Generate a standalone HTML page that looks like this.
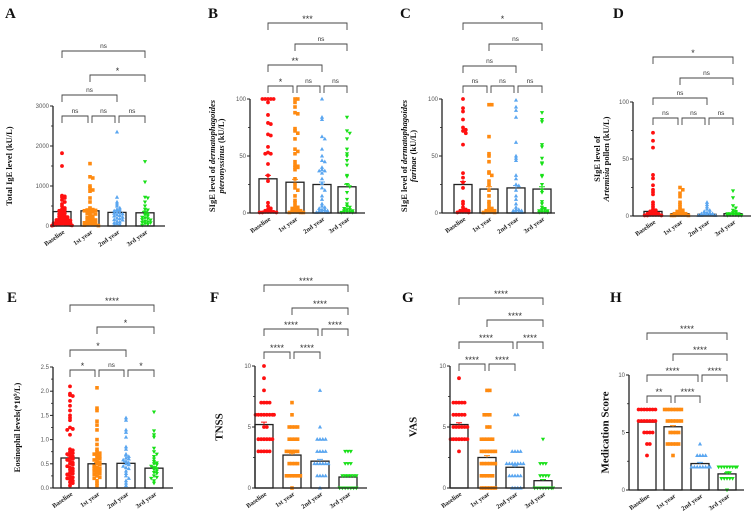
<!DOCTYPE html>
<html><head><meta charset="utf-8">
<style>
html,body{margin:0;padding:0;background:#fff;}
svg{display:block;font-family:"Liberation Serif",serif;}
</style></head>
<body>
<svg id="fig" width="753" height="512" viewBox="0 0 753 512" xmlns="http://www.w3.org/2000/svg"></svg>
<script>
const categories = ['Baseline','1st year','2nd year','3rd year'];
const colors = ['#ff1010','#ff8a10','#5aa6f0','#18e018'];

const meansA = [360,380,340,330];
const semA = [45,40,40,35];
const ptsA = [
 [1820,1500,760,740,720,700,650,600,550,500,450,420,400,380,350,320,300,280,250,240,220,200,190,180,160,150,140,130,120,110,100,90,80,70,60,50,45,40,30,25,20,15,10],
 [1560,1230,1200,1000,950,900,870,700,600,450,420,410,400,390,380,360,350,320,300,280,250,220,200,180,160,150,130,120,100,90,80,60,50,40,30,20,10],
 [2350,720,600,550,500,450,420,400,380,350,330,320,300,280,260,250,220,200,180,160,150,120,100,80,60,40,20],
 [1610,1100,720,700,600,500,420,400,350,300,280,250,220,200,180,160,150,120,100,90,80,60,40,20]];

const meansB = [30,27,25,23];
const semB = [3,2.5,2.2,2.2];
const ptsB = [
 [100,100,100,100,100,97,86,79,78,69,68,58,53,52,52,43,33,28,9,6,4,3,2,2,1,1,1,1,0.5,0.5,0.5],
 [100,100,97,93,88,87,74,72,70,65,56,54,52,45,42,41,40,40,38,30,25,22,20,15,11,9,6,5,4,3,3,2,2,1,1,1,0.5,0.5,0.5],
 [100,84,82,67,65,56,50,46,45,40,38,37,37,35,30,26,22,20,15,12,8,6,5,4,3,3,2,2,1,1,1,0.5,0.5],
 [84,72,70,65,56,52,50,46,42,33,32,25,23,18,12,8,6,5,4,3,3,2,2,1,1,1,0.5,0.5]];

const meansC = [25,21,22,21];
const semC = [2.5,2,2,2];
const ptsC = [
 [100,92,89,82,75,73,72,70,60,35,31,27,22,10,8,5,3,3,2,2,1,1,1,0.5,0.5],
 [95,95,67,52,50,45,36,35,33,28,25,20,15,10,8,5,4,3,3,2,2,1,1,1,0.5,0.5],
 [99,93,90,84,62,50,48,46,33,30,25,24,20,15,12,8,5,3,3,2,2,1,1,0.5,0.5],
 [88,82,80,60,58,48,44,43,33,32,25,20,18,10,8,5,4,3,3,2,2,1,1,0.5,0.5]];

const meansD = [4,2,1.5,2];
const semD = [1,0.4,0.3,0.4];
const ptsD = [
 [73,66,60,36,33,27,23,21,19,12,10,8,6,5,4,3,3,2,2,2,1,1,1,1,0.5,0.5,0.5],
 [25,23,20,17,12,10,8,6,5,4,3,3,2,2,2,1,1,1,1,0.5,0.5,0.5],
 [12,10,8,6,5,4,3,3,2,2,2,1,1,1,1,0.5,0.5,0.5],
 [22,16,9,7,5,4,3,3,2,2,2,1,1,1,0.5,0.5,0.5]];

const meansE = [0.62,0.50,0.51,0.41];
const semE = [0.04,0.03,0.03,0.03];
const ptsE = [
 [2.1,1.95,1.92,1.9,1.8,1.7,1.6,1.5,1.45,1.4,1.25,1.22,1.2,1.1,0.8,0.78,0.75,0.72,0.7,0.68,0.65,0.62,0.6,0.58,0.55,0.52,0.5,0.48,0.45,0.42,0.4,0.38,0.35,0.32,0.3,0.28,0.25,0.22,0.2,0.18,0.15,0.12,0.1,0.05],
 [2.07,1.65,1.6,1.38,1.3,1.2,1.0,0.9,0.8,0.75,0.72,0.7,0.68,0.65,0.62,0.6,0.58,0.55,0.52,0.5,0.48,0.45,0.42,0.4,0.4,0.38,0.36,0.35,0.32,0.3,0.28,0.25,0.22,0.2,0.15,0.1,0.05],
 [1.45,1.4,1.2,1.15,1.05,0.85,0.8,0.7,0.68,0.65,0.62,0.6,0.58,0.55,0.52,0.5,0.48,0.45,0.42,0.4,0.35,0.3,0.25,0.2,0.15,0.1,0.05],
 [1.57,1.18,1.1,1.05,0.82,0.75,0.7,0.65,0.6,0.55,0.52,0.5,0.48,0.45,0.42,0.4,0.38,0.35,0.32,0.3,0.25,0.22,0.2,0.15,0.1]];

const meansF = [5.2,2.7,2.2,0.9];
const semF = [0.2,0.15,0.15,0.1];
const ptsF = [
 [10,9,8,7,7,7,7,6,6,6,6,6,6,6,6,5,5,4,4,4,4,4,4,3,3,3,3,3],
 [7,6,5,5,5,5,4,4,4,4,3,3,3,3,3,2,2,2,2,1,1,1,1,1,1,0],
 [8,5,4,4,4,4,3,3,3,3,2,2,2,2,2,2,1,1,1,1,0],
 [3,3,3,2,2,2,1,1,1,1,1,1,0,0,0,0,0,0,0]];

const meansG = [5.2,2.5,1.7,0.6];
const semG = [0.15,0.15,0.12,0.1];
const ptsG = [
 [9,7,7,7,7,7,6,6,6,6,6,5,5,5,5,5,5,4,4,4,4,4,4,4,3],
 [8,8,6,6,6,5,5,4,4,4,4,4,3,3,3,3,3,3,2,2,2,2,2,2,1,1,1,1,1,0,0,0,0,0,0],
 [6,6,3,3,3,3,2,2,2,2,2,2,2,1,1,1,1,1,0,0,0,0],
 [4,2,2,2,1,1,1,1,0,0,0,0,0,0,0,0]];

const meansH = [5.9,5.5,2.3,1.4];
const semH = [0.1,0.1,0.1,0.1];
const ptsH = [
 [7,7,7,7,7,7,7,6,6,6,6,6,6,6,5,5,5,5,4,4,3],
 [7,7,7,7,7,7,7,6,6,6,6,6,6,5,5,5,5,4,4,4,4,4,3],
 [4,3,3,3,3,2,2,2,2,2,2,2,2],
 [2,2,2,2,2,2,2,2,1.5,1.5,1,1,1,1,1,0]];

const bracketsStd = [[0,1,0],[1,2,0],[2,3,0],[0,2,1],[1,3,2],[0,3,3]];
const bracketsSym = [[0,1,0],[1,2,0],[0,2,1],[2,3,1],[1,3,2],[0,3,3]];

const sigA = ['ns','ns','ns','ns','*','ns'];
const sigB = ['*','ns','ns','**','ns','***'];
const sigC = ['ns','ns','ns','ns','ns','*'];
const sigD = ['ns','ns','ns','ns','ns','*'];
const sigE = ['*','ns','*','*','*','****'];
const sigF = ['****','****','****','****','****','****'];
const sigG = ['****','****','****','****','****','****'];
const sigH = ['**','****','****','****','****','****'];

const ticksA = [0,1000,2000,3000];
const ticks100 = [0,50,100];
const ticksE = [0,0.5,1.0,1.5,2.0,2.5];
const ticks10 = [0,5,10];

const NS='http://www.w3.org/2000/svg';
const svg=document.getElementById('fig');
function mk(tag,attrs,parent){const e=document.createElementNS(NS,tag);for(const k in attrs)e.setAttribute(k,attrs[k]);(parent||svg).appendChild(e);return e;}

const panels=[
 {id:'a',letter:'A',lx:5,ly:18,ax:53,xend:165,y0:226,y1:106,max:3000,xs:[62,90,117,145],bw:18,br:[116,95,75,51],means:meansA,sem:semA,pts:ptsA,ticks:ticksA,tfmt:v=>String(v),br_def:bracketsStd,sig:sigA,title:['Total IgE level (kU/L)'],tx:[10]},
 {id:'b',letter:'B',lx:208,ly:18,ax:250,xend:365,y0:213,y1:99,max:100,xs:[268,295,322,347],bw:18,br:[86,65,44,23],means:meansB,sem:semB,pts:ptsB,ticks:ticks100,tfmt:v=>String(v),br_def:bracketsStd,sig:sigB,title:['SIgE level of <tspan font-style="italic">dermatophagoides</tspan>','<tspan font-style="italic">pteronyssinus</tspan>  (kU/L)'],tx:[213,222]},
 {id:'c',letter:'C',lx:400,ly:18,ax:442,xend:555,y0:213,y1:99,max:100,xs:[463,489,516,542],bw:18,br:[86,66,44,23],means:meansC,sem:semC,pts:ptsC,ticks:ticks100,tfmt:v=>String(v),br_def:bracketsStd,sig:sigC,title:['SIgE level of <tspan font-style="italic">dermatophagoides</tspan>','<tspan font-style="italic">farinae</tspan> (kU/L)'],tx:[405,414]},
 {id:'d',letter:'D',lx:613,ly:18,ax:633,xend:751,y0:216,y1:102,max:100,xs:[653,680,707,733],bw:18,br:[118,98,78,57],means:meansD,sem:semD,pts:ptsD,ticks:ticks100,tfmt:v=>String(v),br_def:bracketsStd,sig:sigD,title:['SIgE level of','<tspan font-style="italic">Artemisia</tspan> pollen (kU/L)'],tx:[598,607]},
 {id:'e',letter:'E',lx:7,ly:302,ax:53,xend:173,y0:488,y1:367,max:2.5,xs:[70,97,126,154],bw:18,br:[370,350,327,305],means:meansE,sem:semE,pts:ptsE,ticks:ticksE,tfmt:v=>v.toFixed(1),br_def:bracketsStd,sig:sigE,title:['Eosinophil levels(*10<tspan baseline-shift="super" font-size="5">9</tspan>/L)'],tx:[18]},
 {id:'f',letter:'F',lx:210,ly:302,ax:255,xend:367,y0:488,y1:366,max:10,xs:[264,292,320,348],bw:18,br:[352,329,308,285],means:meansF,sem:semF,pts:ptsF,ticks:ticks10,tfmt:v=>String(v),br_def:bracketsSym,sig:sigF,title:['TNSS'],tx:[220],big:1},
 {id:'g',letter:'G',lx:402,ly:302,ax:450,xend:562,y0:488,y1:366,max:10,xs:[459,487,515,543],bw:18,br:[364,342,320,298],means:meansG,sem:semG,pts:ptsG,ticks:ticks10,tfmt:v=>String(v),br_def:bracketsSym,sig:sigG,title:['VAS'],tx:[414],big:1},
 {id:'h',letter:'H',lx:610,ly:302,ax:629,xend:744,y0:490,y1:375,max:10,xs:[647,673,700,727],bw:18,br:[396,375,354,333],means:meansH,sem:semH,pts:ptsH,ticks:ticks10,tfmt:v=>String(v),br_def:bracketsSym,sig:sigH,title:['Medication Score'],tx:[606],big:1},
];

function marker(g,shape,x,y,c){
  let e;
  if(shape===0){e=mk('circle',{cx:x,cy:y,r:1.9,fill:c},g);}
  else if(shape===1){e=mk('rect',{x:x-1.8,y:y-1.8,width:3.6,height:3.6,fill:c},g);}
  else if(shape===2){e=mk('polygon',{points:`${x},${y-2.2} ${x-2.1},${y+1.5} ${x+2.1},${y+1.5}`,fill:c},g);}
  else {e=mk('polygon',{points:`${x},${y+2.2} ${x-2.1},${y-1.5} ${x+2.1},${y-1.5}`,fill:c},g);}
  
  
}

panels.forEach(p=>{
  const g=mk('g',{});
  
  
  const Y=v=>p.y0-(v/p.max)*(p.y0-p.y1);
  const L=mk('text',{x:p.lx,y:p.ly,'font-size':15,'font-weight':'bold',fill:'#111'},g);
  L.textContent=p.letter;
  
  
  p.means.forEach((m,i)=>{
    const b=mk('rect',{x:p.xs[i]-p.bw/2,y:Y(m),width:p.bw,height:p.y0-Y(m),fill:'none',stroke:'#222','stroke-width':1.3},g);
    
    
  });
  p.pts.forEach((arr,i)=>{
    const bins={};
    arr.forEach(v=>{
      const y=Y(v);const key=Math.round(y/3);
      const k=bins[key]||0;bins[key]=k+1;
      const off=(k===0?0:(k%2?1:-1)*Math.ceil(k/2)*2.8);
      const x=p.xs[i]+Math.max(-p.bw/2-1,Math.min(p.bw/2+1,off));
      marker(g,i,x,y,colors[i]);
    });
  });
  p.means.forEach((m,i)=>{
    const yt=Y(m+p.sem[i]);
    const e=mk('path',{d:`M${p.xs[i]},${Y(m)}V${yt}M${p.xs[i]-3},${yt}H${p.xs[i]+3}`,stroke:colors[i],'stroke-width':1,fill:'none'},g);
    
    
  });
  const ya=mk('line',{x1:p.ax,y1:p.y1,x2:p.ax,y2:p.y0,stroke:'#222','stroke-width':1.3},g);
  
  
  const xa=mk('line',{x1:p.ax,y1:p.y0,x2:p.xend,y2:p.y0,stroke:'#222','stroke-width':1.3},g);
  
  
  p.ticks.forEach((t,k)=>{
    const y=Y(t);
    mk('line',{x1:p.ax-3,y1:y,x2:p.ax,y2:y,stroke:'#222','stroke-width':1},g);
    if(k<p.ticks.length-1){const ym=Y((t+p.ticks[k+1])/2);mk('line',{x1:p.ax-2,y1:ym,x2:p.ax,y2:ym,stroke:'#222','stroke-width':0.8},g);}
    const tl=mk('text',{x:p.ax-4,y:y+2,'font-size':6,'text-anchor':'end',fill:'#555','font-family':'Liberation Sans, sans-serif'},g);
    tl.textContent=p.tfmt(t);
    
    
  });
  categories.forEach((c,i)=>{
    const tx=mk('text',{x:p.xs[i]+3,y:p.y0+7,'font-size':6.5,'font-weight':'bold','text-anchor':'end',fill:'#222',transform:`rotate(-35 ${p.xs[i]+3} ${p.y0+7})`},g);
    tx.textContent=c;
    
    
  });
  const cy=(p.y0+p.y1)/2;
  p.title.forEach((t,k)=>{
    const tt=mk('text',{x:p.tx[k],y:cy,'font-size':p.big?11:8.5,'font-weight':'bold','text-anchor':'middle',fill:'#111',transform:`rotate(-90 ${p.tx[k]} ${cy})`,'dominant-baseline':'middle'},g);
    tt.innerHTML=t;
    
    
  });
  p.br_def.forEach((b,k)=>{
    const [i,j,lv]=b;
    const y=p.br[lv];
    let x1=p.xs[i],x2=p.xs[j];
    const adjL=p.br_def.some(o=>o!==b&&o[2]===lv&&o[1]===i);
    const adjR=p.br_def.some(o=>o!==b&&o[2]===lv&&o[0]===j);
    if(adjL)x1+=2; if(adjR)x2-=2;
    const br=mk('path',{d:`M${x1},${y+7}V${y}H${x2}V${y+7}`,stroke:'#444','stroke-width':0.9,fill:'none'},g);
    
    
    const s=p.sig[k];
    const st=mk('text',{x:(x1+x2)/2,y:s==='ns'?y-3:y-1,'font-size':s==='ns'?6.5:9,'text-anchor':'middle',fill:'#333','font-family':'Liberation Sans, sans-serif'},g);
    st.textContent=s;
    
    
  });
});
</script>
</body></html>
